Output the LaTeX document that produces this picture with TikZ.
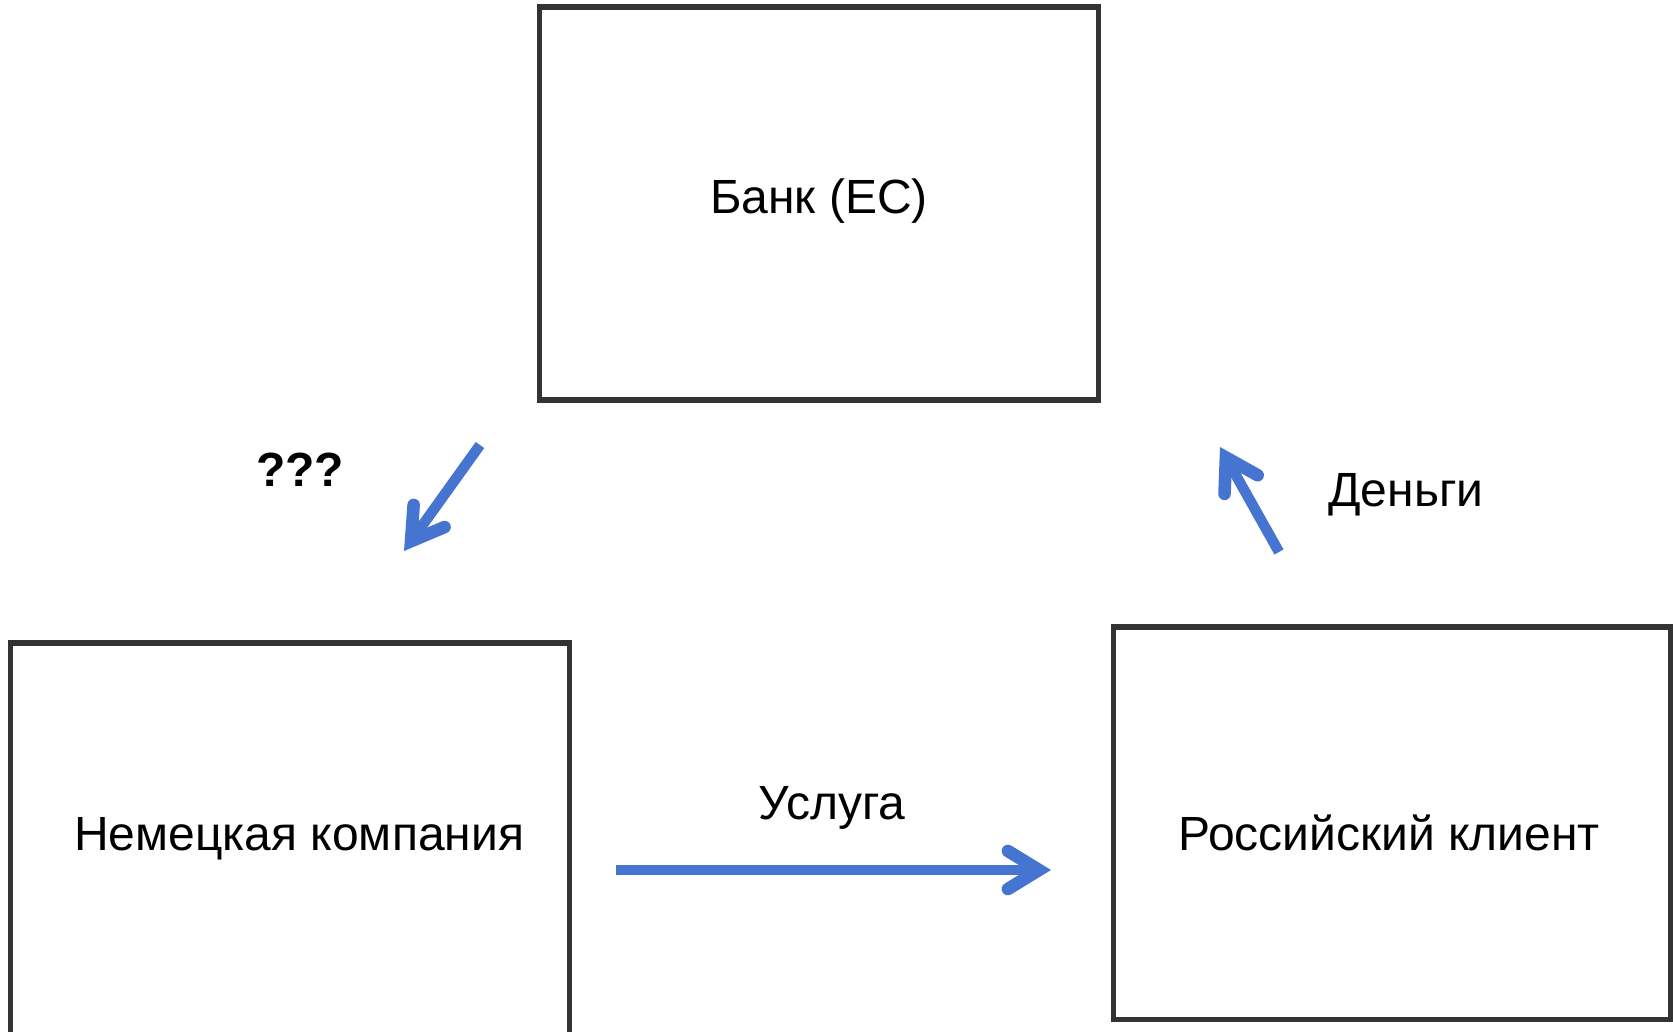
\documentclass[tikz,border=0pt]{standalone}
\usepackage{fontspec}
\setmainfont{Liberation Sans}
\usetikzlibrary{arrows.meta}
\definecolor{arrowblue}{HTML}{4575D0}
\definecolor{boxgray}{HTML}{333333}
\begin{document}
\begin{tikzpicture}[x=1pt,y=-1pt,
  box/.style={draw=boxgray, line width=5.5pt, inner sep=0pt, fill=none},
  lbl/.style={inner sep=0pt, anchor=base, font=\fontsize{48}{57}\selectfont},
  arr/.style={draw=arrowblue, line width=10.5pt,
    -{Straight Barb[length=31pt, width=38pt, line width=0pt 1.2, line cap=round, line join=miter]}}]
\useasboundingbox (0,0) rectangle (1673,1032);
% boxes
\node[box, minimum width=559.2pt, minimum height=392.8pt] (bank) at (819.1,203.6) {};
\node[box, minimum width=559pt, minimum height=392.8pt] (german) at (290,839.4) {};
\node[box, minimum width=557.5pt, minimum height=392.5pt] (russian) at (1392.3,823.2) {};
% texts
\node[lbl] (banktxt) at (819,213.5) {Банк (ЕС)};
\node[lbl] (germantxt) at (299,850.5) {Немецкая компания};
\node[lbl] (russiantxt) at (1389,850.5) {Российский клиент};
\node[lbl] (uslugatxt) at (832,819) {Услуга};
\node[lbl] (dengitxt) at (1406,506.5) {Деньги};
\node[lbl, font=\fontsize{48}{57}\selectfont\bfseries] (qtxt) at (300,486) {???};
% arrows
\coordinate (qa) at (480,445);
\coordinate (qb) at (404,551);
\coordinate (ma) at (1279,552);
\coordinate (mb) at (1220,447);
\coordinate (ua) at (616,870);
\coordinate (ub) at (1051,870);
\draw[arr] (qa) -- (qb);
\draw[arr] (ma) -- (mb);
\draw[arr] (ua) -- (ub);
\end{tikzpicture}
\end{document}
